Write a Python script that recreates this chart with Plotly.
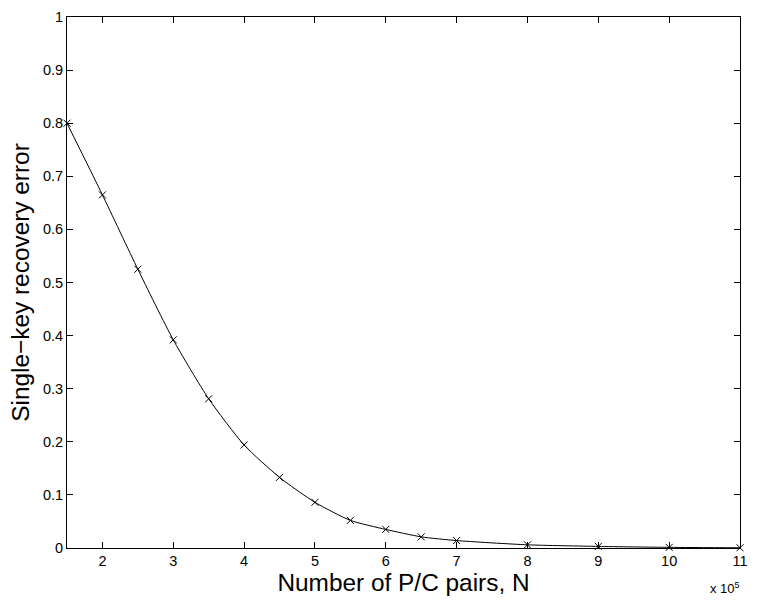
import plotly.graph_objects as go

n_pairs = [1.5, 2, 2.5, 3, 3.5, 4, 4.5, 5, 5.5, 6, 6.5, 7, 8, 9, 10, 11]
error = [0.800, 0.665, 0.525, 0.392, 0.281, 0.194, 0.133, 0.086, 0.052, 0.035,
         0.021, 0.014, 0.006, 0.003, 0.0012, 0.0004]
x_ticks = [2, 3, 4, 5, 6, 7, 8, 9, 10, 11]
y_ticks = [0, 0.1, 0.2, 0.3, 0.4, 0.5, 0.6, 0.7, 0.8, 0.9, 1]
y_labels = ["0", "0.1", "0.2", "0.3", "0.4", "0.5", "0.6", "0.7", "0.8", "0.9", "1"]

fig = go.Figure()
fig.add_trace(go.Scatter(
    x=n_pairs, y=error, mode="lines+markers",
    line=dict(color="black", width=1, shape="spline", smoothing=0.6),
    marker=dict(symbol="x-thin", size=7, line=dict(color="black", width=1)),
    cliponaxis=False, showlegend=False))

font = "Liberation Sans, Arial, sans-serif"
axis_common = dict(showgrid=False, zeroline=False, showline=True, linecolor="black",
                   linewidth=1, mirror="allticks", ticks="inside", ticklen=6,
                   tickcolor="black", tickfont=dict(family=font, size=14.5, color="black"))

fig.update_layout(
    width=757, height=605,
    margin=dict(l=67, r=9, t=11, b=57),
    paper_bgcolor="white", plot_bgcolor="white",
    xaxis=dict(range=[1.5, 11], tickvals=x_ticks, ticktext=[str(v) for v in x_ticks],
               title=dict(text="Number of P/C pairs, N", font=dict(family=font, size=24.4, color="black"), standoff=4),
               **axis_common),
    yaxis=dict(range=[0, 1], tickvals=y_ticks, ticktext=y_labels,
               title=dict(text="Single\u2212key recovery error", font=dict(family=font, size=24.4, color="black"), standoff=6),
               **axis_common),
    annotations=[dict(x=1, y=0, xref="paper", yref="paper", xanchor="right", yanchor="top",
                      yshift=-30, xshift=2, showarrow=False,
                      text="x 10<sup>5</sup>", font=dict(family=font, size=13, color="black"))],
)

fig.write_html("out.html")
